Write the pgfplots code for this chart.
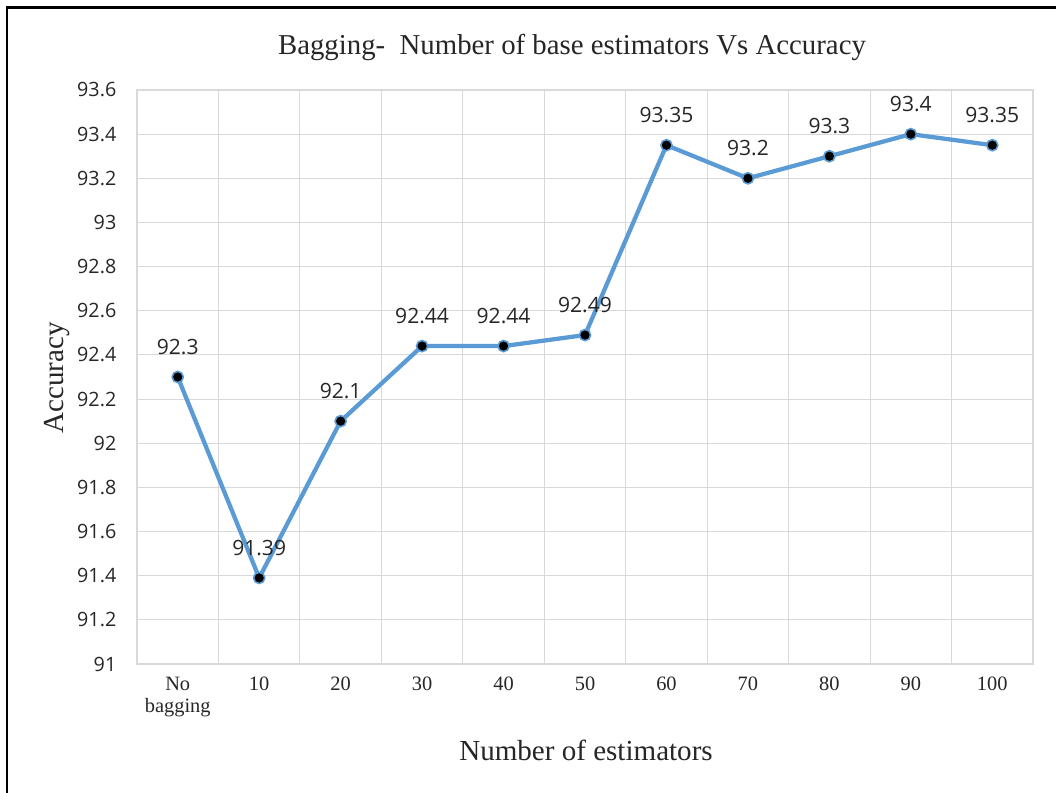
\documentclass[border=0pt]{standalone}
\usepackage{pgfplots}
\pgfplotsset{compat=1.18}
\usepackage{fontspec}
\setmainfont{Liberation Serif}
\newfontfamily\numfont{Open Sans}
\definecolor{lineblue}{HTML}{5B9BD5}
\definecolor{gridgray}{HTML}{D9D9D9}
\newcommand{\PX}[2]{({0.75pt*(#1)},{0.75pt*(792-(#2))})}
\begin{document}
\begin{tikzpicture}
\path[use as bounding box] (0,0) rectangle (792pt,594pt);
\draw[line width=1.6pt, black] \PX{7}{800} -- \PX{7}{7.5} -- \PX{1060}{7.5};
\begin{axis}[
  at={(102.75pt,96pt)}, anchor=south west,
  scale only axis, width=672pt, height=430.5pt,
  xmin=-0.5, xmax=10.5, ymin=91, ymax=93.6,
  xtick={0,1,2,3,4,5,6,7,8,9,10},
  xticklabels={No\\bagging,10,20,30,40,50,60,70,80,90,100},
  minor xtick={0.5,1.5,2.5,3.5,4.5,5.5,6.5,7.5,8.5,9.5},
  ytick={91,91.2,91.4,91.6,91.8,92,92.2,92.4,92.6,92.8,93,93.2,93.4,93.6},
  yticklabel style={font=\numfont\fontsize{14.8}{16}\selectfont, /pgf/number format/fixed, /pgf/number format/precision=1, xshift=-12pt, text=black!85},
  /pgf/number format/assume math mode=true,
  xticklabel style={font=\fontsize{15.3}{17}\selectfont, align=center, yshift=-6pt, text=black!85},
  ymajorgrids, xminorgrids,
  grid style={gridgray, line width=0.8pt},
  minor grid style={gridgray, line width=0.8pt},
  axis line style={gridgray, line width=0.8pt},
  major tick length=0pt, minor tick length=0pt,
  nodes near coords,
  point meta=explicit symbolic,
  every node near coord/.style={font=\numfont\fontsize{15.8}{17}\selectfont, anchor=center, yshift=22.5pt, text=black!85},
  clip=false,
]
\addplot[lineblue, line width=3.2pt, mark=*, mark size=4.2pt,
  mark options={fill=black, draw=lineblue, line width=1.2pt}]
  coordinates {
  (0,92.3) [92.3]
  (1,91.39) [91.39]
  (2,92.1) [92.1]
  (3,92.44) [92.44]
  (4,92.44) [92.44]
  (5,92.49) [92.49]
  (6,93.35) [93.35]
  (7,93.2) [93.2]
  (8,93.3) [93.3]
  (9,93.4) [93.4]
  (10,93.35) [93.35]
  };
\end{axis}
\node[font=\fontsize{21.6}{24}\selectfont, text=black!85] at \PX{572}{47} {Bagging-\ \ Number of base estimators Vs Accuracy};
\node[font=\fontsize{21.8}{24}\selectfont, text=black!85] at \PX{586}{750} {Number of estimators};
\node[font=\fontsize{21.8}{24}\selectfont, text=black!85, rotate=90] at \PX{57}{378} {Accuracy};
\end{tikzpicture}
\end{document}
